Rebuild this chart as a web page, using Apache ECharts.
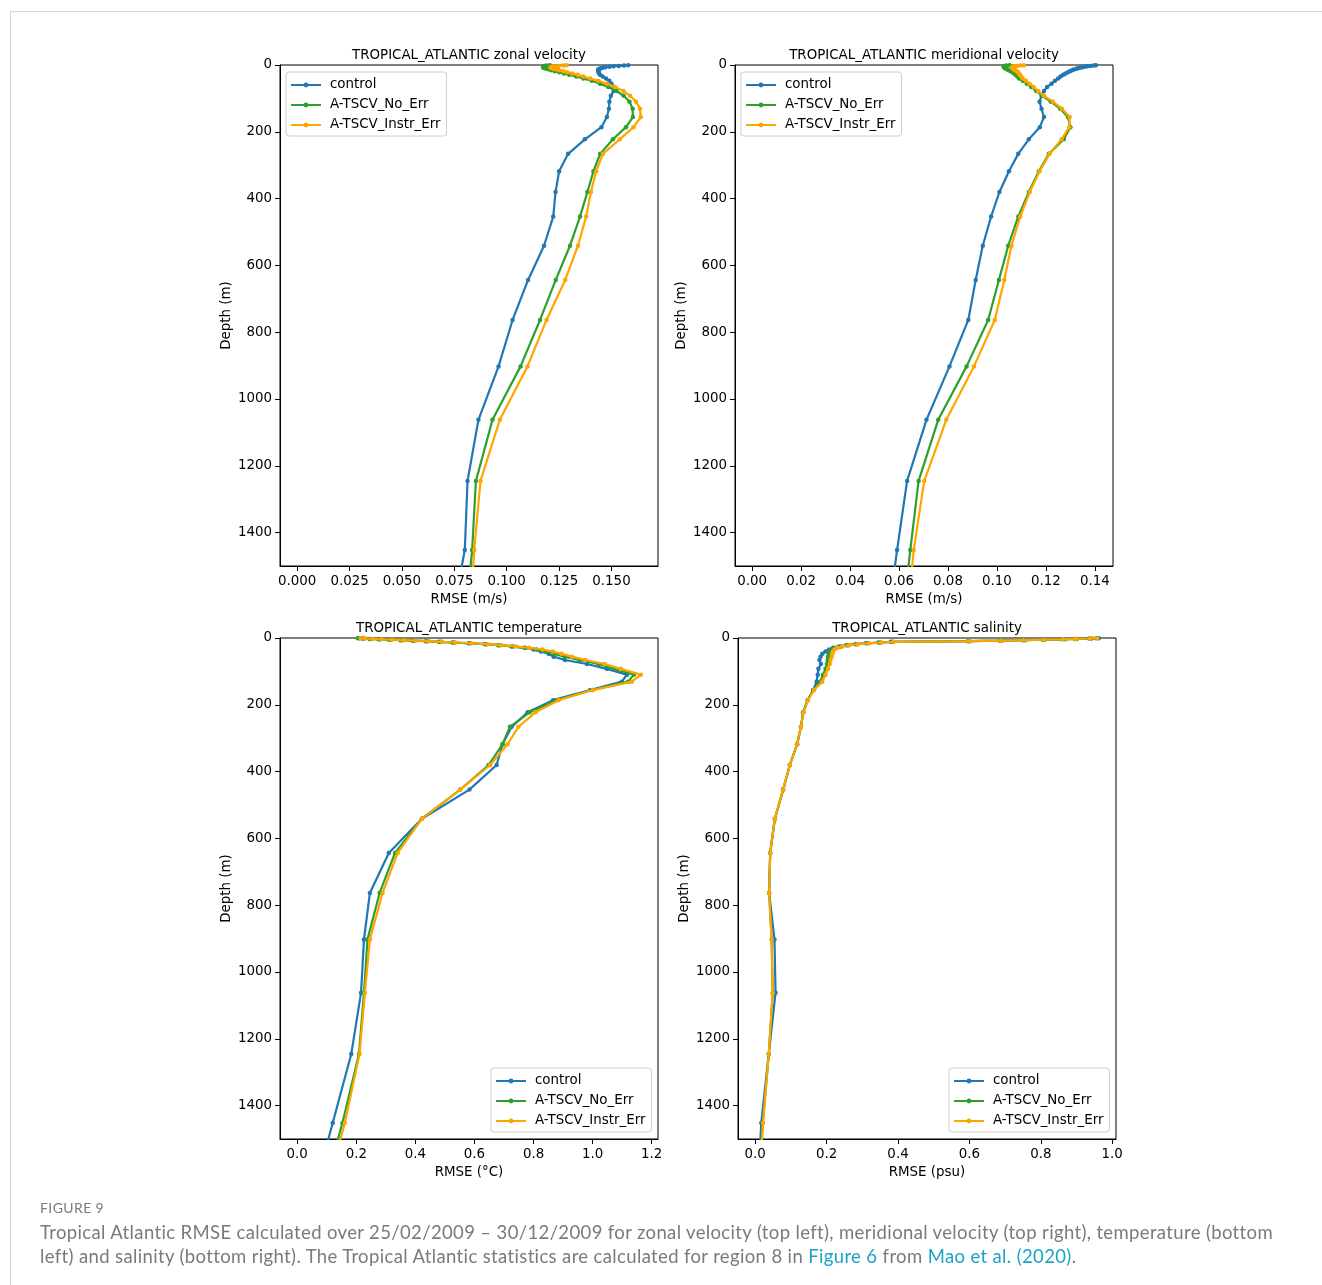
<!DOCTYPE html>
<html>
<head>
<meta charset="utf-8">
<script src="https://cdn.jsdelivr.net/npm/echarts@6/dist/echarts.min.js"></script>
<style>
html,body{margin:0;padding:0;background:#fff;}
#frame{position:absolute;left:10px;top:11px;width:1312px;height:1274px;border-top:1px solid #d6d6d6;border-left:1px solid #d6d6d6;box-sizing:border-box;}
#chart{position:absolute;left:0;top:0;width:1322px;height:1285px;}
#cap{position:absolute;left:40px;top:1198px;font-family:Lato,'Open Sans',sans-serif;color:#7a7a7a;}
#cap .fig{font-size:14px;letter-spacing:0.4px;line-height:20px;margin-bottom:2px;}
#cap .ln{font-size:18.5px;letter-spacing:0.36px;line-height:24px;white-space:nowrap;}
#cap a{color:#1ca3c4;text-decoration:none;}
</style>
</head>
<body>
<div id="frame"></div>
<div id="chart"></div>
<div id="cap">
  <div class="fig">FIGURE 9</div>
  <div class="ln">Tropical Atlantic RMSE calculated over 25/02/2009 – 30/12/2009 for zonal velocity (top left), meridional velocity (top right), temperature (bottom</div>
  <div class="ln">left) and salinity (bottom right). The Tropical Atlantic statistics are calculated for region 8 in <a>Figure 6</a> from <a>Mao et al. (2020)</a>.</div>
</div>
<script>
// ---- model depth levels (m) ----
const depthLevels = [0.494, 1.541, 2.646, 3.819, 5.078, 6.441, 7.930, 9.573, 11.405, 13.467, 15.810, 18.496, 21.599, 25.211, 29.445, 34.434, 40.344, 47.374, 55.764, 65.807, 77.854, 92.326, 109.729, 130.666, 155.851, 186.126, 222.475, 266.040, 318.127, 380.213, 453.938, 541.089, 643.567, 763.333, 902.339, 1062.440, 1245.291, 1452.251, 1684.284];

const runNames = ['control', 'A-TSCV_No_Err', 'A-TSCV_Instr_Err'];

// ---- zonal velocity RMSE (m/s) ----
const zonalControl = [0.1580, 0.1560, 0.1535, 0.1510, 0.1490, 0.1470, 0.1458, 0.1450, 0.1442, 0.1437, 0.1436, 0.1437, 0.1439, 0.1441, 0.1445, 0.1458, 0.1474, 0.1490, 0.1500, 0.1513, 0.1510, 0.1497, 0.1490, 0.1488, 0.1478, 0.1452, 0.1373, 0.1293, 0.1250, 0.1233, 0.1222, 0.1178, 0.1102, 0.1028, 0.0961, 0.0865, 0.0813, 0.0800, 0.0730];
const zonalNoErr = [0.1206, 0.1190, 0.1182, 0.1177, 0.1174, 0.1174, 0.1176, 0.1182, 0.1190, 0.1203, 0.1214, 0.1230, 0.1251, 0.1273, 0.1298, 0.1332, 0.1366, 0.1406, 0.1445, 0.1485, 0.1525, 0.1558, 0.1586, 0.1601, 0.1602, 0.1569, 0.1507, 0.1446, 0.1414, 0.1385, 0.1350, 0.1302, 0.1234, 0.1159, 0.1066, 0.0932, 0.0853, 0.0835, 0.0800];
const zonalInstrErr = [0.1285, 0.1270, 0.1247, 0.1226, 0.1215, 0.1210, 0.1210, 0.1215, 0.1223, 0.1239, 0.1251, 0.1270, 0.1289, 0.1312, 0.1339, 0.1366, 0.1398, 0.1437, 0.1477, 0.1517, 0.1557, 0.1589, 0.1617, 0.1636, 0.1640, 0.1605, 0.1539, 0.1459, 0.1427, 0.1402, 0.1379, 0.1340, 0.1279, 0.1190, 0.1099, 0.0967, 0.0875, 0.0845, 0.0820];

// ---- meridional velocity RMSE (m/s) ----
const meridControl = [0.1404, 0.1396, 0.1382, 0.1369, 0.1358, 0.1348, 0.1339, 0.1331, 0.1324, 0.1314, 0.1307, 0.1298, 0.1290, 0.1280, 0.1271, 0.1260, 0.1250, 0.1237, 0.1223, 0.1205, 0.1192, 0.1182, 0.1174, 0.1182, 0.1192, 0.1175, 0.1130, 0.1087, 0.1049, 0.1010, 0.0976, 0.0942, 0.0913, 0.0883, 0.0806, 0.0712, 0.0633, 0.0592, 0.0550];
const meridNoErr = [0.1051, 0.1038, 0.1032, 0.1029, 0.1028, 0.1028, 0.1032, 0.1034, 0.1038, 0.1043, 0.1048, 0.1056, 0.1064, 0.1070, 0.1076, 0.1083, 0.1090, 0.1105, 0.1122, 0.1140, 0.1160, 0.1185, 0.1220, 0.1258, 0.1290, 0.1300, 0.1273, 0.1212, 0.1171, 0.1130, 0.1087, 0.1046, 0.1008, 0.0964, 0.0876, 0.0760, 0.0680, 0.0646, 0.0610];
const meridInstrErr = [0.1110, 0.1096, 0.1082, 0.1073, 0.1064, 0.1062, 0.1062, 0.1064, 0.1067, 0.1071, 0.1075, 0.1080, 0.1086, 0.1090, 0.1094, 0.1099, 0.1105, 0.1118, 0.1133, 0.1150, 0.1168, 0.1192, 0.1228, 0.1265, 0.1297, 0.1295, 0.1264, 0.1215, 0.1174, 0.1134, 0.1095, 0.1059, 0.1030, 0.0991, 0.0906, 0.0793, 0.0703, 0.0660, 0.0630];

// ---- temperature RMSE (deg C) ----
const tempControl = [0.210, 0.225, 0.250, 0.280, 0.315, 0.355, 0.395, 0.440, 0.485, 0.530, 0.585, 0.640, 0.685, 0.730, 0.770, 0.800, 0.825, 0.851, 0.868, 0.906, 0.981, 1.048, 1.116, 1.099, 0.992, 0.866, 0.780, 0.726, 0.695, 0.675, 0.583, 0.422, 0.310, 0.246, 0.226, 0.216, 0.183, 0.120, 0.050];
const tempNoErr = [0.205, 0.220, 0.245, 0.275, 0.310, 0.350, 0.390, 0.435, 0.480, 0.525, 0.580, 0.635, 0.680, 0.725, 0.770, 0.810, 0.840, 0.870, 0.905, 0.955, 1.020, 1.075, 1.140, 1.120, 1.000, 0.876, 0.787, 0.720, 0.695, 0.648, 0.552, 0.422, 0.331, 0.279, 0.238, 0.226, 0.209, 0.153, 0.080];
const tempInstrErr = [0.215, 0.230, 0.255, 0.285, 0.320, 0.360, 0.400, 0.445, 0.490, 0.535, 0.590, 0.645, 0.690, 0.740, 0.785, 0.830, 0.865, 0.895, 0.930, 0.975, 1.040, 1.095, 1.163, 1.133, 1.000, 0.885, 0.806, 0.749, 0.712, 0.653, 0.552, 0.422, 0.340, 0.289, 0.246, 0.229, 0.211, 0.161, 0.090];

// ---- salinity RMSE (psu) ----
const salControl = [0.9625, 0.942, 0.900, 0.867, 0.810, 0.755, 0.690, 0.600, 0.380, 0.345, 0.310, 0.280, 0.255, 0.235, 0.218, 0.207, 0.197, 0.188, 0.183, 0.180, 0.184, 0.177, 0.175, 0.172, 0.1625, 0.147, 0.1345, 0.128, 0.1176, 0.097, 0.0785, 0.055, 0.042, 0.039, 0.054, 0.057, 0.038, 0.017, 0.005];
const salNoErr = [0.955, 0.935, 0.895, 0.860, 0.805, 0.750, 0.685, 0.595, 0.385, 0.350, 0.315, 0.285, 0.260, 0.240, 0.225, 0.215, 0.209, 0.206, 0.204, 0.203, 0.201, 0.197, 0.190, 0.182, 0.163, 0.147, 0.134, 0.128, 0.117, 0.097, 0.078, 0.055, 0.042, 0.039, 0.046, 0.049, 0.038, 0.021, 0.008];
const salInstrErr = [0.958, 0.938, 0.897, 0.863, 0.808, 0.752, 0.688, 0.598, 0.388, 0.353, 0.318, 0.288, 0.263, 0.244, 0.230, 0.222, 0.218, 0.216, 0.214, 0.211, 0.209, 0.204, 0.197, 0.188, 0.165, 0.148, 0.135, 0.128, 0.117, 0.097, 0.078, 0.055, 0.042, 0.039, 0.046, 0.049, 0.038, 0.022, 0.008];

// ---- tick labels ----
const depthTicks = [0, 200, 400, 600, 800, 1000, 1200, 1400];
const zonalTicks = [0, 0.025, 0.05, 0.075, 0.1, 0.125, 0.15];
const meridTicks = [0, 0.02, 0.04, 0.06, 0.08, 0.1, 0.12, 0.14];
const tempTicks = [0, 0.2, 0.4, 0.6, 0.8, 1.0, 1.2];
const salTicks = [0, 0.2, 0.4, 0.6, 0.8, 1.0];

const colors = ['#1f77b4', '#2ca02c', '#ffa500'];
const FONT = 'DejaVu Sans';
const FS = 13.4;

const panels = [
  {title: 'TROPICAL_ATLANTIC zonal velocity', xname: 'RMSE (m/s)', ticks: zonalTicks, dec: 3,
   xmin: -0.0082, xmax: 0.1722, runs: [zonalControl, zonalNoErr, zonalInstrErr],
   grid: {left: 280, top: 65, width: 378, height: 501}, legend: {left: 286, top: 72}},
  {title: 'TROPICAL_ATLANTIC meridional velocity', xname: 'RMSE (m/s)', ticks: meridTicks, dec: 2,
   xmin: -0.0070, xmax: 0.1474, runs: [meridControl, meridNoErr, meridInstrErr],
   grid: {left: 735, top: 65, width: 378, height: 501}, legend: {left: 741, top: 72}},
  {title: 'TROPICAL_ATLANTIC temperature', xname: 'RMSE (°C)', ticks: tempTicks, dec: 1,
   xmin: -0.0583, xmax: 1.2213, runs: [tempControl, tempNoErr, tempInstrErr],
   grid: {left: 280, top: 638, width: 378, height: 501}, legend: {left: 491, top: 1068}},
  {title: 'TROPICAL_ATLANTIC salinity', xname: 'RMSE (psu)', ticks: salTicks, dec: 1,
   xmin: -0.0482, xmax: 1.0106, runs: [salControl, salNoErr, salInstrErr],
   grid: {left: 738, top: 638, width: 378, height: 501}, legend: {left: 949, top: 1068}}
];

const option = {
  animation: false,
  backgroundColor: 'transparent',
  grid: [], xAxis: [], yAxis: [], series: [], legend: [], graphic: []
};

panels.forEach((p, i) => {
  option.grid.push(Object.assign({show: true, borderColor: '#000', borderWidth: 1, backgroundColor: 'transparent', containLabel: false}, p.grid));
  option.xAxis.push({
    type: 'value', gridIndex: i, min: p.xmin, max: p.xmax,
    axisLine: {show: true, onZero: false, lineStyle: {color: '#000', width: 1}},
    axisTick: {show: true, inside: false, length: 5, customValues: p.ticks, lineStyle: {color: '#000'}},
    axisLabel: {show: true, customValues: p.ticks, margin: 9, color: '#000', fontSize: FS, fontFamily: FONT,
      formatter: v => Number(v).toFixed(p.dec)},
    splitLine: {show: false},
    name: p.xname, nameLocation: 'middle', nameGap: 27,
    nameTextStyle: {color: '#000', fontSize: FS, fontFamily: FONT}
  });
  option.yAxis.push({
    type: 'value', gridIndex: i, min: 0, max: 1500, inverse: true,
    axisLine: {show: true, onZero: false, lineStyle: {color: '#000', width: 1}},
    axisTick: {show: true, inside: false, length: 5, customValues: depthTicks, lineStyle: {color: '#000'}},
    axisLabel: {show: true, customValues: depthTicks, margin: 8, color: '#000', fontSize: FS, fontFamily: FONT,
      padding: [4, 0, 0, 0], formatter: v => String(Math.round(v))},
    splitLine: {show: false},
    name: 'Depth (m)', nameLocation: 'middle', nameGap: 47, nameRotate: 90,
    nameTextStyle: {color: '#000', fontSize: FS, fontFamily: FONT}
  });
  p.runs.forEach((vals, r) => {
    option.series.push({
      type: 'line', name: runNames[r], xAxisIndex: i, yAxisIndex: i,
      data: depthLevels.map((d, k) => [vals[k], d]),
      symbol: 'circle', symbolSize: 4.5, showSymbol: true, showAllSymbol: true,
      lineStyle: {width: 2.2, color: colors[r]},
      itemStyle: {color: colors[r]},
      emphasis: {disabled: true}, silent: true, clip: true, z: 2 + r
    });
  });
  option.legend.push({
    data: runNames, orient: 'vertical', left: p.legend.left, top: p.legend.top,
    itemWidth: 30, itemHeight: 6, itemGap: 6, selectedMode: false,
    textStyle: {color: '#000', fontSize: FS, fontFamily: FONT, lineHeight: 14, padding: [0, 0, 0, 4]},
    backgroundColor: 'rgba(255,255,255,0.8)', borderColor: '#cccccc', borderWidth: 1, borderRadius: 3,
    padding: [6, 6, 4, 4]
  });
  option.graphic.push({
    type: 'text', x: p.grid.left + p.grid.width / 2, y: p.grid.top - 9, silent: true,
    style: {text: p.title, fill: '#000', font: FS + 'px "' + FONT + '"', textAlign: 'center', textVerticalAlign: 'middle'}
  });
});

const chart = echarts.init(document.getElementById('chart'), null, {renderer: 'canvas'});
chart.setOption(option);
</script>
</body>
</html>
